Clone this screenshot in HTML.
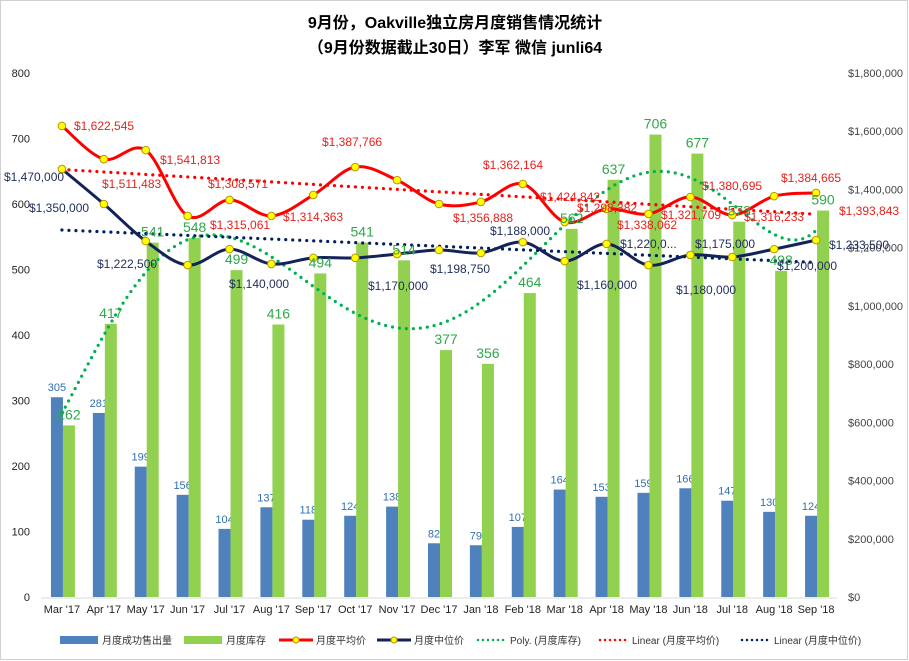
<!DOCTYPE html>
<html><head><meta charset="utf-8"><style>
body{margin:0;background:#fff;}
svg{display:block;font-family:"Liberation Sans","Noto Sans CJK SC",sans-serif;}
</style></head><body>
<svg id="c" width="909" height="661" xmlns="http://www.w3.org/2000/svg">
<rect x="0.5" y="0.5" width="907" height="659" fill="#fff" stroke="#d0d0d0"/>
<text x="455" y="28" text-anchor="middle" font-size="16" font-weight="bold">9月份，Oakville独立房月度销售情况统计</text>
<text x="455" y="53" text-anchor="middle" font-size="16" font-weight="bold">（9月份数据截止30日）李军 微信 junli64</text>
<g id="g"></g>
</svg>
<script>
const categories=["Mar '17","Apr '17","May '17","Jun '17","Jul '17","Aug '17","Sep '17","Oct '17","Nov '17","Dec '17","Jan '18","Feb '18","Mar '18","Apr '18","May '18","Jun '18","Jul '18","Aug '18","Sep '18"];
const sales=[305,281,199,156,104,137,118,124,138,82,79,107,164,153,159,166,147,130,124];
const inventory=[262,417,541,548,499,416,494,541,514,377,356,464,562,637,706,677,573,498,590];
const avgPrice=[1618000,1504000,1535000,1309000,1364000,1309000,1381000,1477000,1432000,1350000,1357000,1419000,1288000,1333000,1316000,1374000,1312000,1377000,1388000];
const medianPrice=[1470000,1350000,1222500,1140000,1195000,1144000,1165000,1165000,1178000,1192000,1182000,1219000,1154000,1213000,1140000,1175000,1168000,1195000,1226000];
const leftTicks=[0,100,200,300,400,500,600,700,800];
const rightTicks=[0,200000,400000,600000,800000,1000000,1200000,1400000,1600000,1800000];
const avgLabels=[["$1,622,545",74,130],["$1,511,483",102,188],["$1,541,813",160,164],["$1,308,571",208,188],["$1,315,061",210,229],["$1,314,363",283,221],["$1,387,766",322,146],["$1,356,888",453,222],["$1,362,164",483,169],["$1,424,842",540,201],["$1,298,382",577,212],["$1,338,062",617,229],["$1,321,709",661,219],["$1,380,695",702,190],["$1,316,233",744,221],["$1,384,665",781,182],["$1,393,843",839,215]];
const medLabels=[["$1,470,000",4,181],["$1,350,000",29,212],["$1,222,500",97,268],["$1,140,000",229,288],["$1,170,000",368,290],["$1,198,750",430,273],["$1,188,000",490,235],["$1,160,000",577,289],["$1,220,0...",620,248],["$1,175,000",695,248],["$1,180,000",676,294],["$1,200,000",777,270],["$1,233,500",829,249]];

const NS="http://www.w3.org/2000/svg";
const g=document.getElementById('g');
const X0=41,X1=837,Y0=597,Y1=73;
const bw=(X1-X0)/categories.length;
const xc=i=>X0+bw*(i+0.5);
const yl=v=>Y0-(v/800)*(Y0-Y1);
const yr=v=>Y0-(v/1800000)*(Y0-Y1);
function mk(t,a){const e=document.createElementNS(NS,t);for(const k in a)e.setAttribute(k,a[k]);g.appendChild(e);return e;}
function smooth(pts){let d=`M${pts[0][0]},${pts[0][1]}`;for(let i=0;i<pts.length-1;i++){const p0=pts[i-1]||pts[i],p1=pts[i],p2=pts[i+1],p3=pts[i+2]||p2;const t=6;d+=` C${p1[0]+(p2[0]-p0[0])/t},${p1[1]+(p2[1]-p0[1])/t} ${p2[0]-(p3[0]-p1[0])/t},${p2[1]-(p3[1]-p1[1])/t} ${p2[0]},${p2[1]}`;}return d;}
function fit(ys,order){const n=ys.length,m=order+1;const xs=ys.map((_,i)=>(i-(n-1)/2)/((n-1)/2));const A=[],b=[];for(let r=0;r<m;r++){A.push([]);let s=0;for(let i=0;i<n;i++)s+=ys[i]*Math.pow(xs[i],r);b.push(s);for(let c=0;c<m;c++){let t=0;for(let i=0;i<n;i++)t+=Math.pow(xs[i],r+c);A[r].push(t);}}
for(let i=0;i<m;i++){let p=i;for(let k=i+1;k<m;k++)if(Math.abs(A[k][i])>Math.abs(A[p][i]))p=k;[A[i],A[p]]=[A[p],A[i]];[b[i],b[p]]=[b[p],b[i]];for(let k=i+1;k<m;k++){const f=A[k][i]/A[i][i];for(let c=i;c<m;c++)A[k][c]-=f*A[i][c];b[k]-=f*b[i];}}
const co=new Array(m);for(let i=m-1;i>=0;i--){let s=b[i];for(let c=i+1;c<m;c++)s-=A[i][c]*co[c];co[i]=s/A[i][i];}
return t=>{const x=(t-(n-1)/2)/((n-1)/2);let s=0;for(let i=0;i<m;i++)s+=co[i]*Math.pow(x,i);return s;};}

leftTicks.forEach(v=>{const t=mk('text',{x:30,y:yl(v)+4,'text-anchor':'end','font-size':11,fill:'#222'});t.textContent=v;

});
rightTicks.forEach(v=>{const t=mk('text',{x:848,y:yr(v)+4,'font-size':11,fill:'#444'});t.textContent='$'+v.toLocaleString('en-US');

});
const ax=mk('line',{x1:X0,x2:X1,y1:Y0+1,y2:Y0+1,stroke:'#d9d9d9'});


categories.forEach((c,i)=>{const t=mk('text',{x:xc(i),y:613,'text-anchor':'middle','font-size':11,fill:'#222'});t.textContent=c;

});

sales.forEach((v,i)=>{const r=mk('rect',{x:xc(i)-11,y:yl(v),width:12,height:Y0-yl(v),fill:'#4f81bd'});


const t=mk('text',{x:xc(i)-5,y:yl(v)-6,'text-anchor':'middle','font-size':11,fill:'#2e6fb5'});t.textContent=v;

});
inventory.forEach((v,i)=>{const r=mk('rect',{x:xc(i)+1,y:yl(v),width:12,height:Y0-yl(v),fill:'#92d050'});

});

const lin=ys=>fit(ys,1);
const dots=(f,scale,col,name)=>{const pts=[];for(let s=0;s<=180;s++){const t=s/10;pts.push([X0+bw*(t+0.5),scale(f(t))]);}
const p=mk('path',{d:'M'+pts.map(p=>p.join(',')).join(' L'),fill:'none',stroke:col,'stroke-width':3.2,'stroke-dasharray':'0 7','stroke-linecap':'round'});

};
dots(fit(inventory,6),yl,'#00b050','poly-trend-inventory');
dots(lin(avgPrice),yr,'#ff0000','linear-trend-avg-price');
dots(lin(medianPrice),yr,'#002060','linear-trend-median-price');

function series(vals,col,name){const pts=vals.map((v,i)=>[xc(i),yr(v)]);
const p=mk('path',{d:smooth(pts),fill:'none',stroke:col,'stroke-width':3});


pts.forEach(q=>{const c=mk('circle',{cx:q[0],cy:q[1],r:3.8,fill:'#ffff00',stroke:'#b89400','stroke-width':1});

});}
series(avgPrice,'#ff0000','line-avg-price');
series(medianPrice,'#13235a','line-median-price');

inventory.forEach((v,i)=>{const t=mk('text',{x:xc(i)+7,y:yl(v)-6,'text-anchor':'middle','font-size':14,fill:'#2ea84a'});t.textContent=v;

});
avgLabels.forEach(a=>{const t=mk('text',{x:a[1],y:a[2],'font-size':12,fill:'#e8201c'});t.textContent=a[0];

});
medLabels.forEach(a=>{const t=mk('text',{x:a[1],y:a[2],'font-size':12,fill:'#1f2d5c'});t.textContent=a[0];

});

const LY=640;
function leg(x,type,col,label,name){if(type==='bar'){mk('rect',{x:x,y:LY-4,width:38,height:8,fill:col});}
else if(type==='line'){mk('line',{x1:x,x2:x+34,y1:LY,y2:LY,stroke:col,'stroke-width':3});mk('circle',{cx:x+17,cy:LY,r:3,fill:'#ffff00',stroke:'#b89400'});}
else{mk('line',{x1:x,x2:x+28,y1:LY,y2:LY,stroke:col,'stroke-width':2.5,'stroke-dasharray':'0 5','stroke-linecap':'round'});}
const t=mk('text',{x:x+(type==='dot'?32:(type==='bar'?42:37)),y:LY+4,'font-size':10,fill:'#333'});t.textContent=label;

}
leg(60,'bar','#4f81bd','月度成功售出量','legend-sales');
leg(184,'bar','#92d050','月度库存','legend-inventory');
leg(279,'line','#ff0000','月度平均价','legend-avg-price');
leg(377,'line','#13235a','月度中位价','legend-median-price');
leg(478,'dot','#00b050','Poly. (月度库存)','legend-poly-inventory');
leg(600,'dot','#ff0000','Linear (月度平均价)','legend-linear-avg');
leg(742,'dot','#002060','Linear (月度中位价)','legend-linear-median');
</script>
</body></html>
